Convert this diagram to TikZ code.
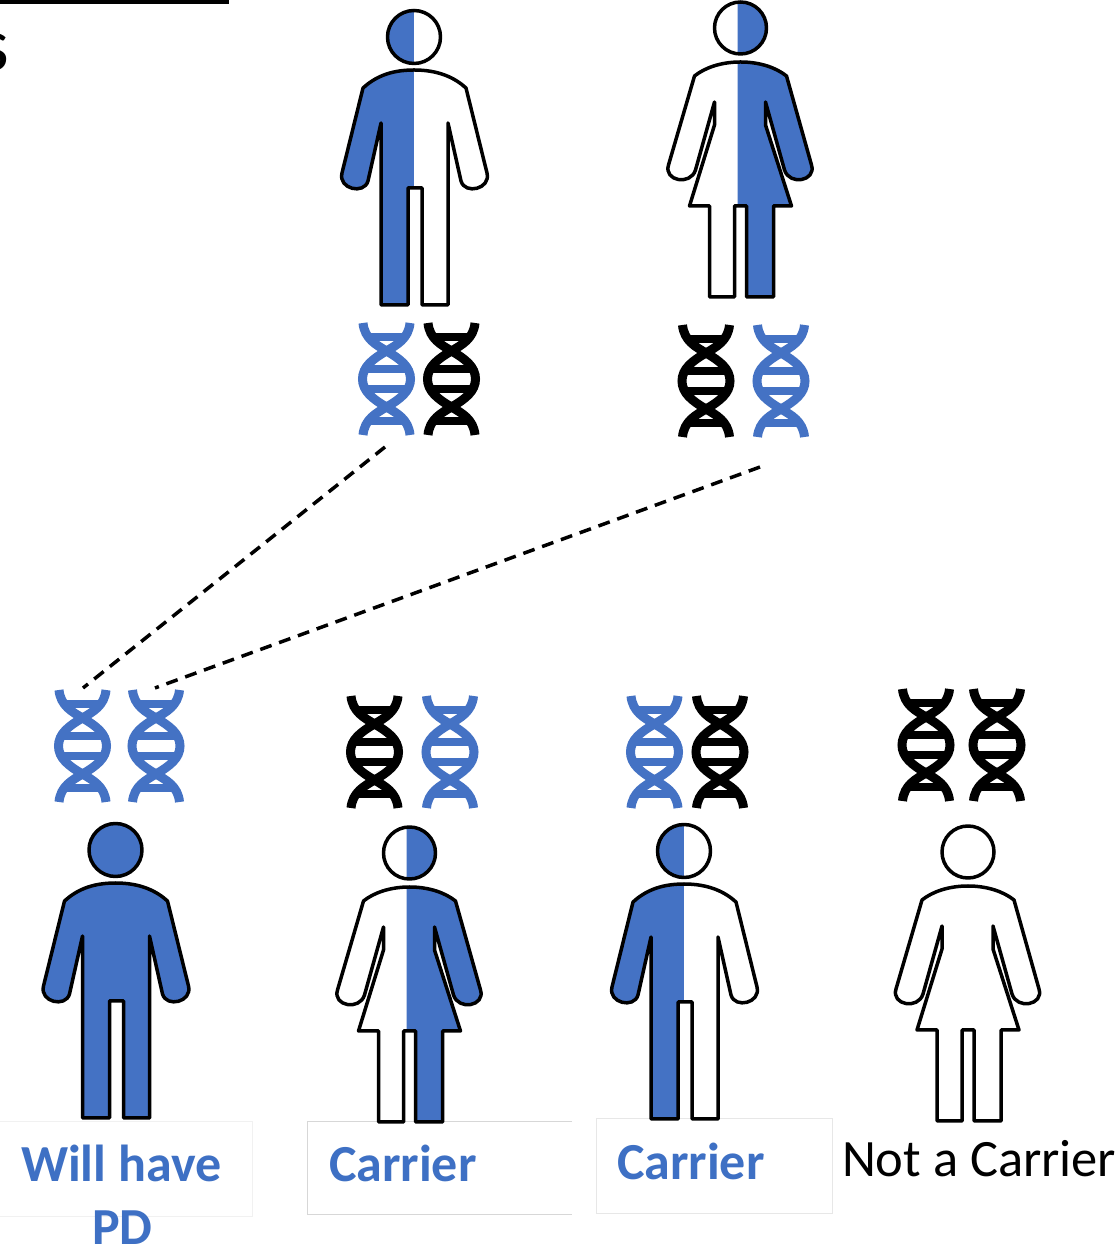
\documentclass[tikz,border=0pt]{standalone}
\usepackage{fontspec}
\setmainfont{Carlito}
\definecolor{fillBlue}{RGB}{68,114,196}
\definecolor{textBlue}{RGB}{62,112,196}
\definecolor{boxColor}{RGB}{215,215,215}
\newcommand{\manOutline}{(0,-33) .. controls (-25,-33) and (-40,-41) .. (-51,-51) -- (-72,-136) .. controls (-76,-152) and (-50,-158) .. (-46,-144) -- (-33,-86) -- (-33,-268) -- (-6,-268) -- (-6,-151) -- (8,-151) -- (8,-268) -- (34,-268) -- (34,-86) -- (47,-144) .. controls (51,-158) and (77,-152) .. (73,-136) -- (52,-51) .. controls (41,-41) and (25,-33) .. (0,-33) -- cycle}
\newcommand{\womanOutline}{(0,-34) .. controls (-20,-34) and (-36,-40) .. (-46,-48) -- (-72,-137) .. controls (-77,-153) and (-50,-158) .. (-45,-142) -- (-26,-74) -- (-26,-97) -- (-51,-178) -- (-31,-178) -- (-31,-269) -- (-6,-269) -- (-6,-178) -- (6,-178) -- (6,-269) -- (33,-269) -- (33,-178) -- (51,-178) -- (25,-97) -- (25,-74) -- (44,-142) .. controls (49,-158) and (76,-153) .. (71,-137) -- (46,-48) .. controls (36,-40) and (20,-34) .. (0,-34) -- cycle}
\tikzset{
  figureLine/.style={draw=black,line width=3.5pt,line join=round},
  blueLabel/.style={text=textBlue,anchor=base west,inner sep=0pt,outer sep=0pt,font=\fontsize{52}{62}\selectfont\bfseries},
  plainLabel/.style={text=black,anchor=base west,inner sep=0pt,outer sep=0pt,font=\fontsize{52.5}{62}\selectfont},
  labelBox/.style={draw=boxColor,fill=white,line width=1pt},
  inheritDash/.style={draw=black,line width=3.5pt,dash pattern=on 12pt off 8pt},
  pics/man/.style n args={2}{code={
    \begin{scope}
    \path[clip] (-100,-300) rectangle (0.6,40);
    \path[fill=#1] (0,0) circle (26.5) \manOutline;
    \end{scope}
    \begin{scope}
    \path[clip] (0,-300) rectangle (100,40);
    \path[fill=#2] (0,0) circle (26.5) \manOutline;
    \end{scope}
    \path[figureLine] (0,0) circle (26.5);
    \path[figureLine] \manOutline;
  }},
  pics/woman/.style n args={2}{code={
    \begin{scope}
    \path[clip] (-100,-300) rectangle (-2.4,40);
    \path[fill=#1] (0,0) circle (26) \womanOutline;
    \end{scope}
    \begin{scope}
    \path[clip] (-3,-300) rectangle (100,40);
    \path[fill=#2] (0,0) circle (26) \womanOutline;
    \end{scope}
    \path[figureLine] (0,0) circle (26);
    \path[figureLine] \womanOutline;
  }},
  pics/dna/.style={code={
    \path[draw=#1,line width=9pt] (-23.5,56) .. controls (-22,40) and (-10,34) .. (0,28) .. controls (14,20) and (24,12) .. (24,0) .. controls (24,-12) and (14,-20) .. (0,-28) .. controls (-10,-34) and (-22,-40) .. (-23.5,-56);
    \path[draw=#1,line width=9pt] (23.5,56) .. controls (22,40) and (10,34) .. (0,28) .. controls (-14,20) and (-24,12) .. (-24,0) .. controls (-24,-12) and (-14,-20) .. (0,-28) .. controls (10,-34) and (22,-40) .. (23.5,-56);
    \path[draw=#1,line width=8pt] (-19,42) -- (19,42);
    \path[draw=#1,line width=8pt] (-19,10) -- (19,10);
    \path[draw=#1,line width=8pt] (-19,-10) -- (19,-10);
    \path[draw=#1,line width=8pt] (-19,-42) -- (19,-42);
  }}
}
\begin{document}
\begin{tikzpicture}[x=1pt,y=1pt]
\path[use as bounding box,fill=white] (0,0) rectangle (1117,1248);
\begin{scope}
\path[clip] (0,0) rectangle (1117,1248);
\path[fill=black] (0,1244) rectangle (229,1248);
\node[text=black,anchor=base east,inner sep=0pt,outer sep=0pt,font=\fontsize{76}{90}\selectfont] (cutWord) at (9,1177) {s};
\end{scope}

\path[labelBox,draw=boxColor!35] (-2,126) rectangle (252,31);
\path[labelBox] (572,126) -- (307,126) -- (307,33) -- (572,33);
\path[labelBox,draw=boxColor!60] (596,129) rectangle (832,34);

\pic at (414.0,1211) {man={fillBlue}{white}};
\pic at (740.5,1220) {woman={white}{fillBlue}};
\pic at (115.5,398) {man={fillBlue}{fillBlue}};
\pic at (409.5,395) {woman={white}{fillBlue}};
\pic at (684.0,397) {man={fillBlue}{white}};
\pic at (968.0,396) {woman={white}{white}};

\pic at (386.5,869) {dna=fillBlue};
\pic at (451.5,869) {dna=black};
\pic at (706.0,867) {dna=black};
\pic at (781.0,867) {dna=fillBlue};
\pic at ( 82.5,502) {dna=fillBlue};
\pic at (156.0,502) {dna=fillBlue};
\pic at (374.5,496) {dna=black};
\pic at (450.0,496) {dna=fillBlue};
\pic at (654.5,496) {dna=fillBlue};
\pic at (720.0,496) {dna=black};
\pic at (926.0,503) {dna=black};
\pic at (997.0,503) {dna=black};

\coordinate (fatherDna) at (385,801);
\coordinate (motherDna) at (760,781);
\coordinate (childDnaA) at ( 83,560);
\coordinate (childDnaB) at (155,560);
\path[inheritDash] (fatherDna) -- (childDnaA);
\path[inheritDash] (motherDna) -- (childDnaB);

\node[blueLabel] (willHave) at ( 21, 66) {Will have};
\node[blueLabel] (pdLabel) at ( 92,  4) {PD};
\node[blueLabel] (carrierA) at (329, 66) {Carrier};
\node[blueLabel] (carrierB) at (617, 68) {Carrier};
\node[plainLabel] (notCarrier) at (842, 71) {Not a Carrier};
\end{tikzpicture}
\end{document}
